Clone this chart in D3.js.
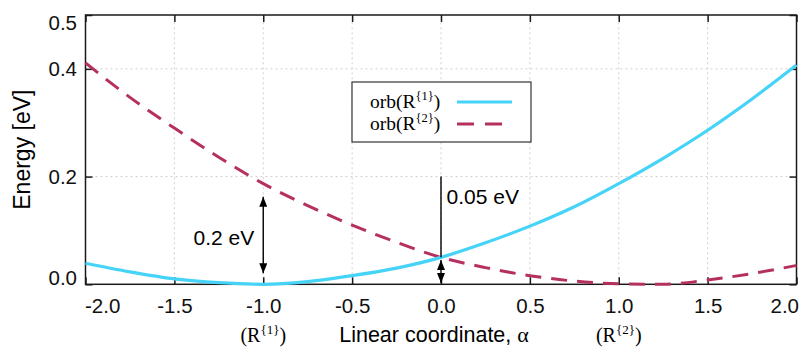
<!DOCTYPE html>
<html>
<head>
<meta charset="utf-8">
<script src="https://cdn.jsdelivr.net/npm/d3@7"></script>
<style>
  html, body { margin: 0; padding: 0; background: #fff; }
  svg { display: block; }
  .sans { font-family: "Liberation Sans", Arial, sans-serif; }
  .serif { font-family: "Liberation Serif", "Times New Roman", serif; }
</style>
</head>
<body>
<svg id="chart" width="801" height="350"></svg>
<script>
// Energy profiles of the two orbitals along the linear coordinate alpha
const alpha = [-2.0, -1.75, -1.5, -1.25, -1.0, -0.75, -0.5, -0.25, 0.0,
               0.25, 0.5, 0.75, 1.0, 1.25, 1.5, 1.75, 2.0];
const orb1 = [0.039, 0.023, 0.010, 0.003, 0.000, 0.005, 0.016, 0.030, 0.050,
              0.077, 0.108, 0.144, 0.187, 0.234, 0.286, 0.344, 0.407];
const orb2 = [0.411, 0.347, 0.290, 0.236, 0.187, 0.146, 0.110, 0.078, 0.050,
              0.031, 0.016, 0.006, 0.001, 0.000, 0.008, 0.020, 0.035];

const xTicks = [-2.0, -1.5, -1.0, -0.5, 0.0, 0.5, 1.0, 1.5, 2.0];
const yTicks = [0.0, 0.2, 0.4, 0.5];
const yGrid = [0.2, 0.4];

// Reference configurations marked under the x axis
const refAlpha = [-1.0, 1.0];
const refSup = ["{1}", "{2}"];

// Annotated energy gaps
const gapLabels = ["0.2 eV", "0.05 eV"];

const seriesNames = ["orb(R", "orb(R"];
const seriesSup = ["{1}", "{2}"];
const colors = ["#45d3f8", "#b5305f"];

const W = 801, H = 350;
const m = { left: 85.5, right: 4.5, top: 15, bottom: 65.7 };
const svg = d3.select("#chart");

const x = d3.scaleLinear().domain([-2, 2]).range([m.left, W - m.right]);
const y = d3.scaleLinear().domain([0, 0.5]).range([H - m.bottom, m.top]);

const fmt = d => d.toFixed(1);

// grid
const grid = svg.append("g").attr("stroke", "#cfcfcf").attr("stroke-width", 1)
  .attr("stroke-dasharray", "2,3");
grid.selectAll(".gx").data(xTicks.filter(d => d > -2 && d < 2)).join("line")
  .attr("x1", d => x(d)).attr("x2", d => x(d))
  .attr("y1", y(0)).attr("y2", y(0.5));
grid.selectAll(".gy").data(yGrid).join("line")
  .attr("x1", x(-2)).attr("x2", x(2))
  .attr("y1", d => y(d)).attr("y2", d => y(d));

// axes with inward ticks on all four sides
const tickLen = 7;
const gxB = svg.append("g").attr("transform", `translate(0,${y(0)})`)
  .call(d3.axisBottom(x).tickValues(xTicks).tickFormat(fmt)
    .tickSizeInner(-tickLen).tickSizeOuter(0).tickPadding(14.5));
const gxT = svg.append("g").attr("transform", `translate(0,${y(0.5)})`)
  .call(d3.axisTop(x).tickValues(xTicks).tickFormat("")
    .tickSizeInner(-tickLen).tickSizeOuter(0));
const gyL = svg.append("g").attr("transform", `translate(${x(-2)},0)`)
  .call(d3.axisLeft(y).tickValues(yTicks).tickFormat(fmt)
    .tickSizeInner(-tickLen).tickSizeOuter(0).tickPadding(8.5));
const gyR = svg.append("g").attr("transform", `translate(${x(2)},0)`)
  .call(d3.axisRight(y).tickValues(yTicks).tickFormat("")
    .tickSizeInner(-tickLen).tickSizeOuter(0));

[gxB, gxT, gyL, gyR].forEach(g => {
  g.select(".domain").remove();
  g.selectAll(".tick line").attr("stroke", "#1a1a1a").attr("stroke-width", 1.5);
  g.selectAll("text").attr("class", "sans").attr("font-size", 20.5)
    .attr("fill", "#111").attr("font-family", null);
});
// keep the outermost labels inside the canvas
gxB.selectAll(".tick text").filter(d => d === -2).attr("text-anchor", "start").attr("x", -1);
gxB.selectAll(".tick text").filter(d => d === 2).attr("text-anchor", "end").attr("x", 2);
gyL.selectAll(".tick text").filter(d => d === 0.5).attr("dy", "0.72em");
gyL.selectAll(".tick text").filter(d => d === 0).attr("dy", "0.02em");

// frame
svg.append("rect")
  .attr("x", x(-2)).attr("y", y(0.5))
  .attr("width", x(2) - x(-2)).attr("height", y(0) - y(0.5))
  .attr("fill", "none").attr("stroke", "#1a1a1a").attr("stroke-width", 1.5);

// curves
const line = d3.line().curve(d3.curveMonotoneX);
svg.append("path")
  .attr("d", line(alpha.map((a, i) => [x(a), y(orb2[i])])))
  .attr("fill", "none").attr("stroke", colors[1]).attr("stroke-width", 3)
  .attr("stroke-dasharray", "16,10");
svg.append("path")
  .attr("d", line(alpha.map((a, i) => [x(a), y(orb1[i])])))
  .attr("fill", "none").attr("stroke", colors[0]).attr("stroke-width", 3.2);

// arrowheads
const defs = svg.append("defs");
defs.append("marker").attr("id", "head").attr("viewBox", "0 0 10 8")
  .attr("refX", 10).attr("refY", 4).attr("markerWidth", 10).attr("markerHeight", 8)
  .attr("markerUnits", "userSpaceOnUse").attr("orient", "auto-start-reverse")
  .append("path").attr("d", "M0,0 L10,4 L0,8 Z").attr("fill", "#000");

const ann = svg.append("g").attr("stroke", "#000").attr("stroke-width", 1.4);
// gap at alpha = -1
ann.append("line")
  .attr("x1", x(-1)).attr("x2", x(-1)).attr("y1", y(0.0205)).attr("y2", y(0.1625))
  .attr("marker-start", "url(#head)").attr("marker-end", "url(#head)");
// gap at alpha = 0
ann.append("line")
  .attr("x1", x(0)).attr("x2", x(0)).attr("y1", y(0.2)).attr("y2", y(0.05));
ann.append("line")
  .attr("x1", x(0)).attr("x2", x(0)).attr("y1", y(0.0025)).attr("y2", y(0.045))
  .attr("marker-start", "url(#head)").attr("marker-end", "url(#head)");

svg.append("text").attr("class", "sans").attr("font-size", 21)
  .attr("x", x(-1) - 9).attr("y", y(0.073)).attr("text-anchor", "end")
  .text(gapLabels[0]);
svg.append("text").attr("class", "sans").attr("font-size", 21)
  .attr("x", x(0) + 5.5).attr("y", y(0.149)).attr("text-anchor", "start")
  .text(gapLabels[1]);

// axis titles
svg.append("text").attr("class", "sans").attr("font-size", 23)
  .attr("transform", `translate(30,${(y(0) + y(0.5)) / 2}) rotate(-90)`)
  .attr("text-anchor", "middle").text("Energy [eV]");

const xt = svg.append("text").attr("class", "sans").attr("font-size", 21.5)
  .attr("x", 434).attr("y", 342).attr("text-anchor", "middle");
xt.append("tspan").text("Linear coordinate, ");
xt.append("tspan").attr("class", "serif").attr("font-size", 22).text("α");

// reference configuration labels under the axis
refAlpha.forEach((a, i) => {
  const t = svg.append("text").attr("class", "serif").attr("font-size", 20)
    .attr("x", x(a)).attr("y", 342).attr("text-anchor", "middle");
  t.append("tspan").text("(R");
  t.append("tspan").attr("font-size", 13).attr("dy", -8).text(refSup[i]);
  t.append("tspan").attr("dy", 8).text(")");
});

// legend
const lg = svg.append("g");
lg.append("rect").attr("x", 352).attr("y", 82).attr("width", 179).attr("height", 60)
  .attr("fill", "#fff").attr("stroke", "#333").attr("stroke-width", 1.2);
[0, 1].forEach(i => {
  const yy = 108 + i * 22;
  const t = lg.append("text").attr("class", "serif").attr("font-size", 19.5)
    .attr("x", 370).attr("y", yy);
  t.append("tspan").text(seriesNames[i]);
  t.append("tspan").attr("font-size", 12.5).attr("dy", -8).text(seriesSup[i]);
  t.append("tspan").attr("dy", 8).text(")");
  lg.append("line").attr("x1", 457).attr("x2", i === 1 ? 502 : 512)
    .attr("y1", yy - 6).attr("y2", yy - 6)
    .attr("stroke", colors[i]).attr("stroke-width", 3.2)
    .attr("stroke-dasharray", i === 1 ? "17,11" : null);
});
</script>
</body>
</html>
